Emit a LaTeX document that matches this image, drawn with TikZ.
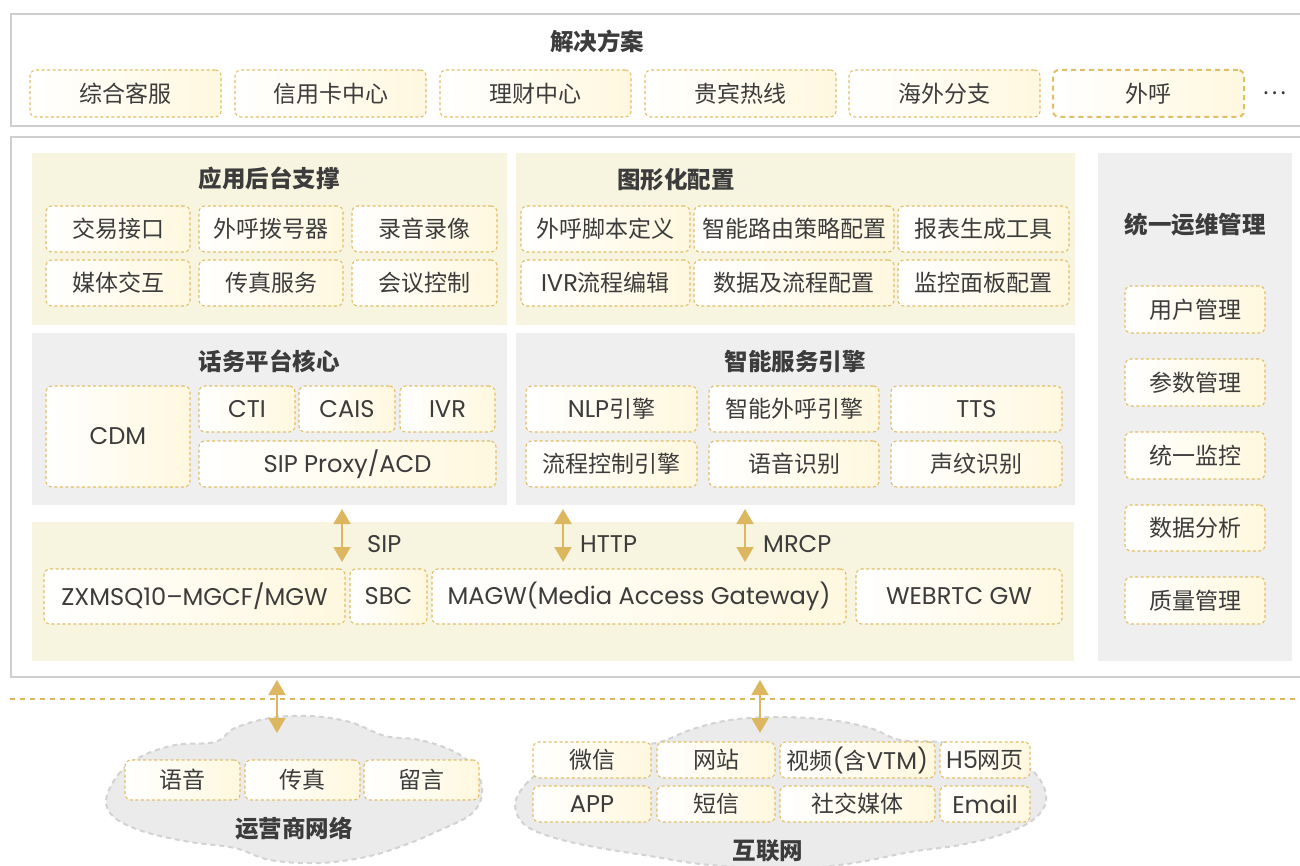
\documentclass[tikz,border=0pt]{standalone}
\usepackage{fontspec}
\setmainfont{Noto Sans CJK SC}
\newfontfamily\latfont{Poppins}[Scale=1.05]
\newcommand\lat[1]{{\latfont #1}}
\usetikzlibrary{arrows.meta}
\definecolor{gold}{HTML}{E2BE68}
\definecolor{arrgold}{HTML}{DDB660}
\definecolor{panY}{HTML}{F7F4DF}
\definecolor{panG}{HTML}{EFEFEF}
\definecolor{boxY}{HTML}{FFF8DF}
\definecolor{txt}{HTML}{3C3C3C}
\definecolor{frame}{HTML}{CFCFCF}
\definecolor{cloudF}{HTML}{EBEBEB}
\definecolor{cloudD}{HTML}{D3D3D3}
\newcommand\mybox[7][]{\node[ibox,#1,minimum width={(#4-#2)*1pt},minimum height={(#5-#3)*1pt}] (#6) at ({(#2+#4)/2},{(#3+#5)/2}) {#7};}
\newcommand\mypanel[6]{\node[#1,minimum width={(#4-#2)*1pt},minimum height={(#5-#3)*1pt}] (#6) at ({(#2+#4)/2},{(#3+#5)/2}) {};}
\begin{document}
\begin{tikzpicture}[x=1pt,y=-1pt,
  ibox/.style={draw=gold, rounded corners=6pt, dash pattern=on 3pt off 2.5pt, line width=1.1pt,
    left color=white, right color=boxY, text=txt, font=\fontsize{23}{27}\selectfont, inner sep=0pt},
  thickbox/.style={line width=2pt, dash pattern=on 5pt off 4pt},
  panelY/.style={fill=panY, draw=none, inner sep=0pt, rectangle},
  panelG/.style={fill=panG, draw=none, inner sep=0pt, rectangle},
  outer/.style={draw=frame, line width=2.5pt, fill=white, inner sep=0pt, rectangle},
  ttl/.style={font=\bfseries\fontsize{23.5}{27}\selectfont, text=txt, inner sep=0pt},
  lbl/.style={font=\fontsize{23}{27}\selectfont, text=txt, inner sep=0pt},
  dbl/.style={draw=arrgold, line width=2pt, {Triangle[width=17pt,length=15pt]}-{Triangle[width=17pt,length=15pt]}},
  cloudst/.style={fill=cloudF, draw=cloudD, line width=2pt, dash pattern=on 5pt off 4pt}
]
\useasboundingbox (0,0) rectangle (1300,866);
\fill[white] (0,0) rectangle (1300,866);

% ---------- top solution box ----------
\mypanel{outer}{11}{14}{1304}{126}{topframe}
\node[ttl] (soltitle) at (597,41) {解决方案};
\mybox{30}{70}{221}{117}{s1}{综合客服}
\mybox{235}{70}{426}{117}{s2}{信用卡中心}
\mybox{440}{70}{631}{117}{s3}{理财中心}
\mybox{645}{70}{836}{117}{s4}{贵宾热线}
\mybox{849}{70}{1040}{117}{s5}{海外分支}
\mybox[thickbox]{1053}{70}{1244}{117}{s6}{外呼}
\node[lbl] (dots) at (1275,93) {⋯};

% ---------- main frame ----------
\mypanel{outer}{11}{137}{1304}{677}{mainframe}

% 应用后台支撑
\mypanel{panelY}{32}{153}{507}{325}{p1}
\node[ttl] (p1t) at (269,178) {应用后台支撑};
\mybox{46}{206}{190}{252}{a1}{交易接口}
\mybox{199}{206}{343}{252}{a2}{外呼拨号器}
\mybox{352}{206}{497}{252}{a3}{录音录像}
\mybox{46}{260}{190}{306}{a4}{媒体交互}
\mybox{199}{260}{343}{306}{a5}{传真服务}
\mybox{352}{260}{497}{306}{a6}{会议控制}

% 图形化配置
\mypanel{panelY}{516}{153}{1075}{325}{p2}
\node[ttl] (p2t) at (676,180) {图形化配置};
\mybox{521}{206}{690}{252}{g1}{外呼脚本定义}
\mybox{694}{206}{894}{252}{g2}{智能路由策略配置}
\mybox{898}{206}{1069}{252}{g3}{报表生成工具}
\mybox{521}{260}{690}{306}{g4}{\lat{IVR}流程编辑}
\mybox{694}{260}{894}{306}{g5}{数据及流程配置}
\mybox{898}{260}{1069}{306}{g6}{监控面板配置}

% 话务平台核心
\mypanel{panelG}{32}{333}{507}{505}{p3}
\node[ttl] (p3t) at (269,361) {话务平台核心};
\mybox{46}{386}{190}{487}{c1}{\lat{CDM}}
\mybox{199}{386}{295}{432}{c2}{\lat{CTI}}
\mybox{299}{386}{395}{432}{c3}{\lat{CAIS}}
\mybox{400}{386}{495}{432}{c4}{\lat{IVR}}
\mybox{199}{441}{496}{487}{c5}{\lat{SIP Proxy/ACD}}

% 智能服务引擎
\mypanel{panelG}{516}{333}{1075}{505}{p4}
\node[ttl] (p4t) at (795,361) {智能服务引擎};
\mybox{526}{386}{697}{432}{e1}{\lat{NLP}引擎}
\mybox{709}{386}{879}{432}{e2}{智能外呼引擎}
\mybox{891}{386}{1062}{432}{e3}{\lat{TTS}}
\mybox{526}{441}{697}{487}{e4}{流程控制引擎}
\mybox{709}{441}{879}{487}{e5}{语音识别}
\mybox{891}{441}{1062}{487}{e6}{声纹识别}

% 统一运维管理
\mypanel{panelG}{1098}{153}{1292}{661}{p5}
\node[ttl] (p5t) at (1195,225) {统一运维管理};
\mybox{1125}{286}{1265}{333}{m1}{用户管理}
\mybox{1125}{359}{1265}{406}{m2}{参数管理}
\mybox{1125}{432}{1265}{479}{m3}{统一监控}
\mybox{1125}{505}{1265}{551}{m4}{数据分析}
\mybox{1125}{577}{1265}{624}{m5}{质量管理}

% gateway panel
\mypanel{panelY}{32}{522}{1074}{661}{p6}
\mybox{44}{569}{345}{624}{w1}{\lat{ZXMSQ10–MGCF/MGW}}
\mybox{350}{569}{427}{624}{w2}{\lat{SBC}}
\mybox{432}{569}{846}{624}{w3}{\lat{MAGW(Media Access Gateway)}}
\mybox{856}{569}{1062}{624}{w4}{\lat{WEBRTC GW}}

% protocol arrows
\coordinate (sipT) at (342,509); \coordinate (sipB) at (342,562);
\coordinate (httpT) at (563,509); \coordinate (httpB) at (563,562);
\coordinate (mrcpT) at (745,509); \coordinate (mrcpB) at (745,562);
\draw[dbl] (sipT) -- (sipB);
\draw[dbl] (httpT) -- (httpB);
\draw[dbl] (mrcpT) -- (mrcpB);
\node[lbl, anchor=west] (sipl) at (367,544) {\lat{SIP}};
\node[lbl, anchor=west] (httpl) at (580,544) {\lat{HTTP}};
\node[lbl, anchor=west] (mrcpl) at (763,544) {\lat{MRCP}};

% dotted separator
\coordinate (sepL) at (10,699); \coordinate (sepR) at (1300,699);
\draw[draw=arrgold, line width=2.5pt, dash pattern=on 5pt off 5pt] (sepL) -- (sepR);

% ---------- clouds ----------
\path[cloudst] plot[smooth cycle, tension=0.6] coordinates {
 (106,800) (118,775) (140,757) (175,745) (215,742) (235,728) (270,718) (310,716)
 (350,722) (385,736) (420,740) (455,752) (476,770) (482,795) (470,815) (440,830)
 (410,843) (370,856) (320,863) (270,860) (235,848) (190,842) (145,832) (115,818)};
\path[cloudst] plot[smooth cycle, tension=0.6] coordinates {
 (515,805) (525,785) (545,770) (580,758) (620,748) (660,742) (690,730) (730,720)
 (780,717) (830,720) (870,728) (900,740) (940,742) (985,750) (1025,765) (1043,785)
 (1045,805) (1030,822) (1000,835) (960,845) (910,852) (860,862) (810,868) (760,868)
 (700,864) (650,856) (600,848) (555,838) (525,825)};

\mybox{125}{760}{240}{800}{v1}{语音}
\mybox{245}{760}{360}{800}{v2}{传真}
\mybox{364}{760}{479}{800}{v3}{留言}
\node[ttl] (optitle) at (294,829) {运营商网络};

\mybox{533}{742}{651}{778}{n1}{微信}
\mybox{657}{742}{775}{778}{n2}{网站}
\mybox{780}{742}{935}{778}{n3}{视频\lat{(}含\lat{VTM)}}
\mybox{940}{742}{1030}{778}{n4}{\lat{H5}网页}
\mybox{533}{786}{651}{822}{n5}{\lat{APP}}
\mybox{657}{786}{775}{822}{n6}{短信}
\mybox{780}{786}{935}{822}{n7}{社交媒体}
\mybox{940}{786}{1030}{822}{n8}{\lat{Email}}
\node[ttl] (nettitle) at (768,851) {互联网};

% access arrows
\coordinate (opT) at (277,680); \coordinate (opB) at (277,733);
\coordinate (netT) at (760,680); \coordinate (netB) at (760,733);
\draw[dbl] (opT) -- (opB);
\draw[dbl] (netT) -- (netB);
\end{tikzpicture}
\end{document}
